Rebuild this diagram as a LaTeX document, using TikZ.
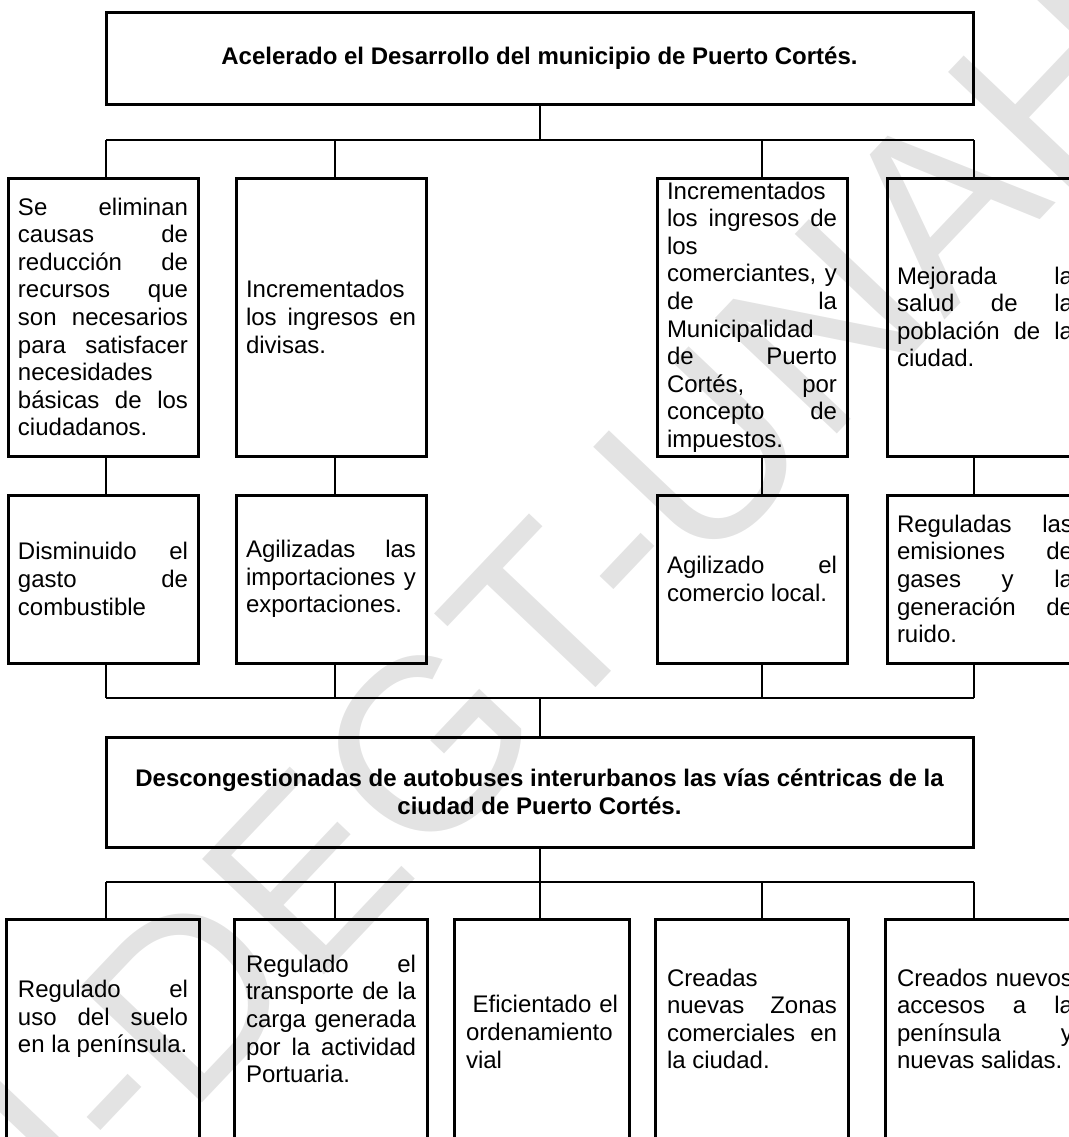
\documentclass[tikz,border=0pt]{standalone}
\usepackage{fontspec}
\setmainfont{Liberation Sans}
\usetikzlibrary{positioning}
\tolerance=10000
\hbadness=10000
\hyphenpenalty=10000

\begin{document}
\begin{tikzpicture}[
  x=0.5pt, y=-0.5pt,
  caja/.style={rectangle, draw, line width=1.5pt, inner xsep=5pt, inner ysep=0pt, text width=85pt, align=justify, font=\fontsize{12pt}{13.8pt}\selectfont},
  cajader/.style={caja, text width=88pt},
  fila1/.style={minimum height=139pt},
  fila2/.style={minimum height=84pt},
  fila3/.style={draw=none, minimum height=98pt},
  titulo/.style={rectangle, draw, line width=1.5pt, minimum width=433.5pt, align=center, font=\fontsize{12pt}{13.8pt}\selectfont\bfseries},
  linea/.style={line width=1pt},
  marca/.style={text=black!11, rotate=46.5, font=\fontsize{122pt}{122pt}\selectfont},
  node distance=114pt
]
\clip (0,0) rectangle (1069,1137);
\useasboundingbox (0,0) rectangle (1069,1137);

% marca de agua
\node[marca] (marca) at (450,720) {UDI-DEGT-UNAH};

% fin
\node[titulo, minimum height=46pt] (fin) at (539.5,58) {Acelerado el Desarrollo del municipio de Puerto Cortés.};

% efectos
\node[caja, fila1] (a1) at (103,317) {Se eliminan\linebreak causas de\linebreak reducción de\linebreak recursos que\linebreak son necesarios\linebreak para satisfacer\linebreak necesidades\linebreak básicas de los\linebreak ciudadanos.};
\node[caja, fila1, right of=a1] (a2) {Incrementados\linebreak los ingresos en\linebreak divisas.};
\node[caja, fila1, right of=a2, node distance=210.5pt] (a3) {Incrementados\linebreak los ingresos de\linebreak los\linebreak comerciantes, y\linebreak de la\linebreak Municipalidad\linebreak de Puerto\linebreak Cortés, por\linebreak concepto de\linebreak impuestos.};
\node[cajader, fila1, right of=a3, node distance=116.5pt] (a4) {Mejorada la\linebreak salud de la\linebreak población de la\linebreak ciudad.};

\node[caja, fila2] (b1) at (103,579) {Disminuido el\linebreak gasto de\linebreak combustible};
\node[caja, fila2, right of=b1] (b2) {Agilizadas las\linebreak importaciones y\linebreak exportaciones.};
\node[caja, fila2, right of=b2, node distance=210.5pt] (b3) {Agilizado el\linebreak comercio local.};
\node[cajader, fila2, right of=b3, node distance=116.5pt] (b4) {Reguladas las\linebreak emisiones de\linebreak gases y la\linebreak generación de\linebreak ruido.};

% proposito
\node[titulo, minimum height=55pt] (medio) at (539.5,792) {Descongestionadas de autobuses interurbanos las vías céntricas de la\\ciudad de Puerto Cortés.};

% componentes
\node[caja, fila3] (e1) at (103,1019) {Regulado el\linebreak uso del suelo\linebreak en la península.};
\node[caja, fila3, right of=e1] (e2) {Regulado el\linebreak transporte de la\linebreak carga generada\linebreak por la actividad\linebreak Portuaria.};
\node[caja, fila3, text width=76pt, right of=e2, node distance=105.5pt, yshift=-6.5pt] (e3) {\hspace*{0.278em}Eficientado el\linebreak ordenamiento\linebreak vial};
\node[caja, fila3, right of=e2, node distance=210.5pt] (e4) {Creadas\linebreak nuevas Zonas\linebreak comerciales en\linebreak la ciudad.};
\node[cajader, fila3, right of=e4, node distance=116.5pt] (e5) {Creados nuevos\linebreak accesos a la\linebreak península y\linebreak nuevas salidas.};
\draw[line width=1.5pt] ([yshift=-40pt]e1.south west) -- (e1.north west) -- (e1.north east) -- ([yshift=-40pt]e1.south east);
\draw[line width=1.5pt] ([yshift=-40pt]e2.south west) -- (e2.north west) -- (e2.north east) -- ([yshift=-40pt]e2.south east);
\draw[line width=1.5pt] ([yshift=-40pt]e3.south west) -- ([yshift=6.5pt]e3.north west) -- ([yshift=6.5pt]e3.north east) -- ([yshift=-40pt]e3.south east);
\draw[line width=1.5pt] ([yshift=-40pt]e4.south west) -- (e4.north west) -- (e4.north east) -- ([yshift=-40pt]e4.south east);
\draw[line width=1.5pt] ([yshift=-40pt]e5.south west) -- (e5.north west) -- (e5.north east) -- ([yshift=-40pt]e5.south east);

% conectores
\coordinate (h1) at (106,140);
\coordinate (h2) at (335,140);
\coordinate (h3) at (762,140);
\coordinate (h4) at (974,140);
\coordinate (k1) at (106,698);
\coordinate (k4) at (974,698);
\coordinate (m1) at (106,882);
\coordinate (m2) at (335,882);
\coordinate (m4) at (762,882);
\coordinate (m5) at (974,882);

\draw[linea] (fin.south) -- (fin.south |- h1);
\draw[linea] (h1) -- (h4);
\draw[linea] (h1) -- (h1 |- a1.north);
\draw[linea] (h2) -- (h2 |- a2.north);
\draw[linea] (h3) -- (h3 |- a3.north);
\draw[linea] (h4) -- (h4 |- a4.north);

\draw[linea] (a1.south -| h1) -- (b1.north -| h1);
\draw[linea] (a2.south -| h2) -- (b2.north -| h2);
\draw[linea] (a3.south -| h3) -- (b3.north -| h3);
\draw[linea] (a4.south -| h4) -- (b4.north -| h4);

\draw[linea] (b1.south -| h1) -- (k1);
\draw[linea] (b2.south -| h2) -- (h2 |- k1);
\draw[linea] (b3.south -| h3) -- (h3 |- k1);
\draw[linea] (b4.south -| h4) -- (k4);
\draw[linea] (k1) -- (k4);
\draw[linea] (medio.north |- k1) -- (medio.north);

\draw[linea] (medio.south) -- (medio.south |- m1);
\draw[linea] (m1) -- (m5);
\draw[linea] (m1) -- (m1 |- e1.north);
\draw[linea] (m2) -- (m2 |- e2.north);
\draw[linea] (medio.south |- m1) -- (medio.south |- e2.north);
\draw[linea] (m4) -- (m4 |- e4.north);
\draw[linea] (m5) -- (m5 |- e5.north);
\end{tikzpicture}
\end{document}
